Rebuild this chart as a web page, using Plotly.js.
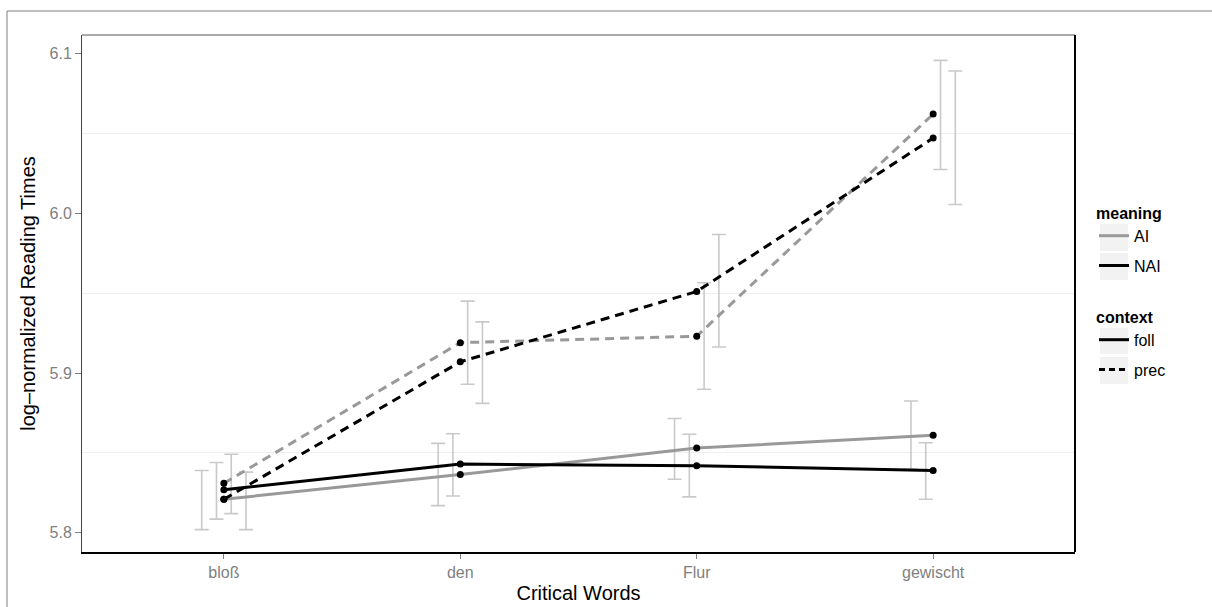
<!DOCTYPE html>
<html>
<head>
<meta charset="utf-8">
<script src="https://cdn.plot.ly/plotly-3.0.1.min.js"></script>
<style>html,body{margin:0;padding:0;background:#fff;}#chart{width:1212px;height:607px;}</style>
</head>
<body>
<div id="chart"></div>
<script>
const categories = ['bloß', 'den', 'Flur', 'gewischt'];

const aiFollMean  = [5.821, 5.8365, 5.853, 5.861];
const aiFollLow   = [5.802, 5.817, 5.8335, 5.8398];
const aiFollHigh  = [5.839, 5.856, 5.8715, 5.8825];

const naiFollMean = [5.827, 5.843, 5.842, 5.839];
const naiFollLow  = [5.8086, 5.823, 5.8225, 5.821];
const naiFollHigh = [5.844, 5.862, 5.8617, 5.8564];

const aiPrecMean  = [5.831, 5.919, 5.923, 6.062];
const aiPrecLow   = [5.812, 5.893, 5.8898, 6.0273];
const aiPrecHigh  = [5.8492, 5.945, 5.9565, 6.0956];

const naiPrecMean = [5.821, 5.907, 5.951, 6.047];
const naiPrecLow  = [5.802, 5.881, 5.9163, 6.0054];
const naiPrecHigh = [5.838, 5.932, 5.9867, 6.089];

const meaningLabels = ['AI', 'NAI'];
const contextLabels = ['foll', 'prec'];

const GRAY = '#999999', BLACK = '#000000', ERR = '#c9c9c9';
const FONT = 'Liberation Sans, Arial, Helvetica, sans-serif';
const xIdx = categories.map((c, i) => i + 1);

const groups = [
  {mean: aiFollMean,  low: aiFollLow,  high: aiFollHigh,  color: GRAY,  dash: 'solid',   dodge: -0.09375},
  {mean: naiFollMean, low: naiFollLow, high: naiFollHigh, color: BLACK, dash: 'solid',   dodge: -0.03125},
  {mean: aiPrecMean,  low: aiPrecLow,  high: aiPrecHigh,  color: GRAY,  dash: '9px,6px', dodge: 0.03125},
  {mean: naiPrecMean, low: naiPrecLow, high: naiPrecHigh, color: BLACK, dash: '9px,6px', dodge: 0.09375}
];

const traces = [];
// error bars (dodged)
groups.forEach(g => {
  traces.push({
    type: 'scatter', mode: 'markers', showlegend: false, hoverinfo: 'skip',
    x: xIdx.map(v => v + g.dodge), y: g.mean,
    marker: {size: 1, opacity: 0},
    error_y: {type: 'data', symmetric: false,
      array: g.high.map((h, i) => h - g.mean[i]),
      arrayminus: g.low.map((l, i) => g.mean[i] - l),
      color: ERR, thickness: 1.6, width: 7}
  });
});
// lines (gray first, then black)
[0, 2, 1, 3].forEach(k => {
  const g = groups[k];
  traces.push({
    type: 'scatter', mode: 'lines', showlegend: false, hoverinfo: 'skip',
    x: xIdx, y: g.mean,
    line: {color: g.color, width: 3, dash: g.dash}
  });
});
// points
groups.forEach(g => {
  traces.push({
    type: 'scatter', mode: 'markers', showlegend: false,
    x: xIdx, y: g.mean,
    marker: {color: BLACK, size: 7}
  });
});
// legend entries
meaningLabels.forEach((lab, i) => {
  traces.push({type: 'scatter', mode: 'lines', x: [null], y: [null], name: lab,
    legend: 'legend', legendgroup: 'm' + i,
    line: {color: i === 0 ? GRAY : BLACK, width: 3}});
});
contextLabels.forEach((lab, i) => {
  traces.push({type: 'scatter', mode: 'lines', x: [null], y: [null], name: lab,
    legend: 'legend2', legendgroup: 'c' + i,
    line: {color: BLACK, width: 3, dash: i === 0 ? 'solid' : '6px,4px'}});
});

const L = 82, R = 1075, T = 35, B = 552;
const px = x => (x - L) / (R - L);
const py = y => (B - y) / (B - T);

const keyBoxes = [[224, 251], [253, 280], [328, 354], [357, 384]];
const shapes = keyBoxes.map(b => ({
  type: 'rect', xref: 'paper', yref: 'paper', layer: 'below',
  x0: px(1100), x1: px(1128), y0: py(b[1]), y1: py(b[0]),
  fillcolor: '#f2f2f2', line: {width: 0}
}));
// outer figure border
shapes.push({type: 'rect', xref: 'paper', yref: 'paper', x0: px(7), x1: 1.5, y0: -0.5, y1: py(11),
  line: {color: '#808080', width: 1}, fillcolor: 'rgba(0,0,0,0)'});
// panel top and right edges
shapes.push({type: 'line', xref: 'paper', yref: 'paper', x0: 0, x1: 1, y0: 1, y1: 1,
  line: {color: '#555555', width: 1}});
shapes.push({type: 'line', xref: 'paper', yref: 'paper', x0: 1, x1: 1, y0: 0, y1: 1,
  line: {color: '#000000', width: 2}});

const legendCommon = {
  xanchor: 'left', yanchor: 'top', bgcolor: 'rgba(0,0,0,0)', borderwidth: 0,
  font: {family: FONT, size: 16, color: '#000'}, tracegroupgap: 6, traceorder: 'grouped'
};

const layout = {
  width: 1212, height: 607,
  margin: {l: L, r: 1212 - R, t: T, b: 607 - B},
  paper_bgcolor: '#ffffff', plot_bgcolor: '#ffffff',
  font: {family: FONT},
  showlegend: true,
  xaxis: {
    range: [0.4, 4.6], tickvals: xIdx, ticktext: categories,
    showgrid: false, zeroline: false,
    showline: true, linecolor: '#000000', linewidth: 2,
    ticks: 'outside', ticklen: 5, tickcolor: '#7f7f7f', tickwidth: 1,
    tickfont: {family: FONT, size: 16, color: '#7f7f7f'},
    title: {text: 'Critical Words', font: {family: FONT, size: 20, color: '#000'}, standoff: 6}
  },
  yaxis: {
    range: [5.788, 6.1115], tickvals: [5.8, 5.9, 6.0, 6.1], ticktext: ['5.8', '5.9', '6.0', '6.1'],
    showgrid: true, gridcolor: 'rgba(255,255,255,0)', zeroline: false,
    minor: {showgrid: true, tickvals: [5.85, 5.95, 6.05], gridcolor: '#efefef', gridwidth: 1},
    showline: true, linecolor: '#444444', linewidth: 1,
    ticks: 'outside', ticklen: 6, tickcolor: '#7f7f7f', tickwidth: 1,
    tickfont: {family: FONT, size: 16, color: '#7f7f7f'},
    title: {text: 'log–normalized Reading Times', font: {family: FONT, size: 20, color: '#000'}, standoff: 8}
  },
  legend: Object.assign({}, legendCommon, {x: px(1094), y: py(198),
    title: {text: '<b>meaning</b>', font: {family: FONT, size: 16, color: '#000'}}}),
  legend2: Object.assign({}, legendCommon, {x: px(1094), y: py(302),
    title: {text: '<b>context</b>', font: {family: FONT, size: 16, color: '#000'}}}),
  shapes: shapes
};

Plotly.newPlot('chart', traces, layout, {displayModeBar: false, staticPlot: true});
</script>
</body>
</html>
